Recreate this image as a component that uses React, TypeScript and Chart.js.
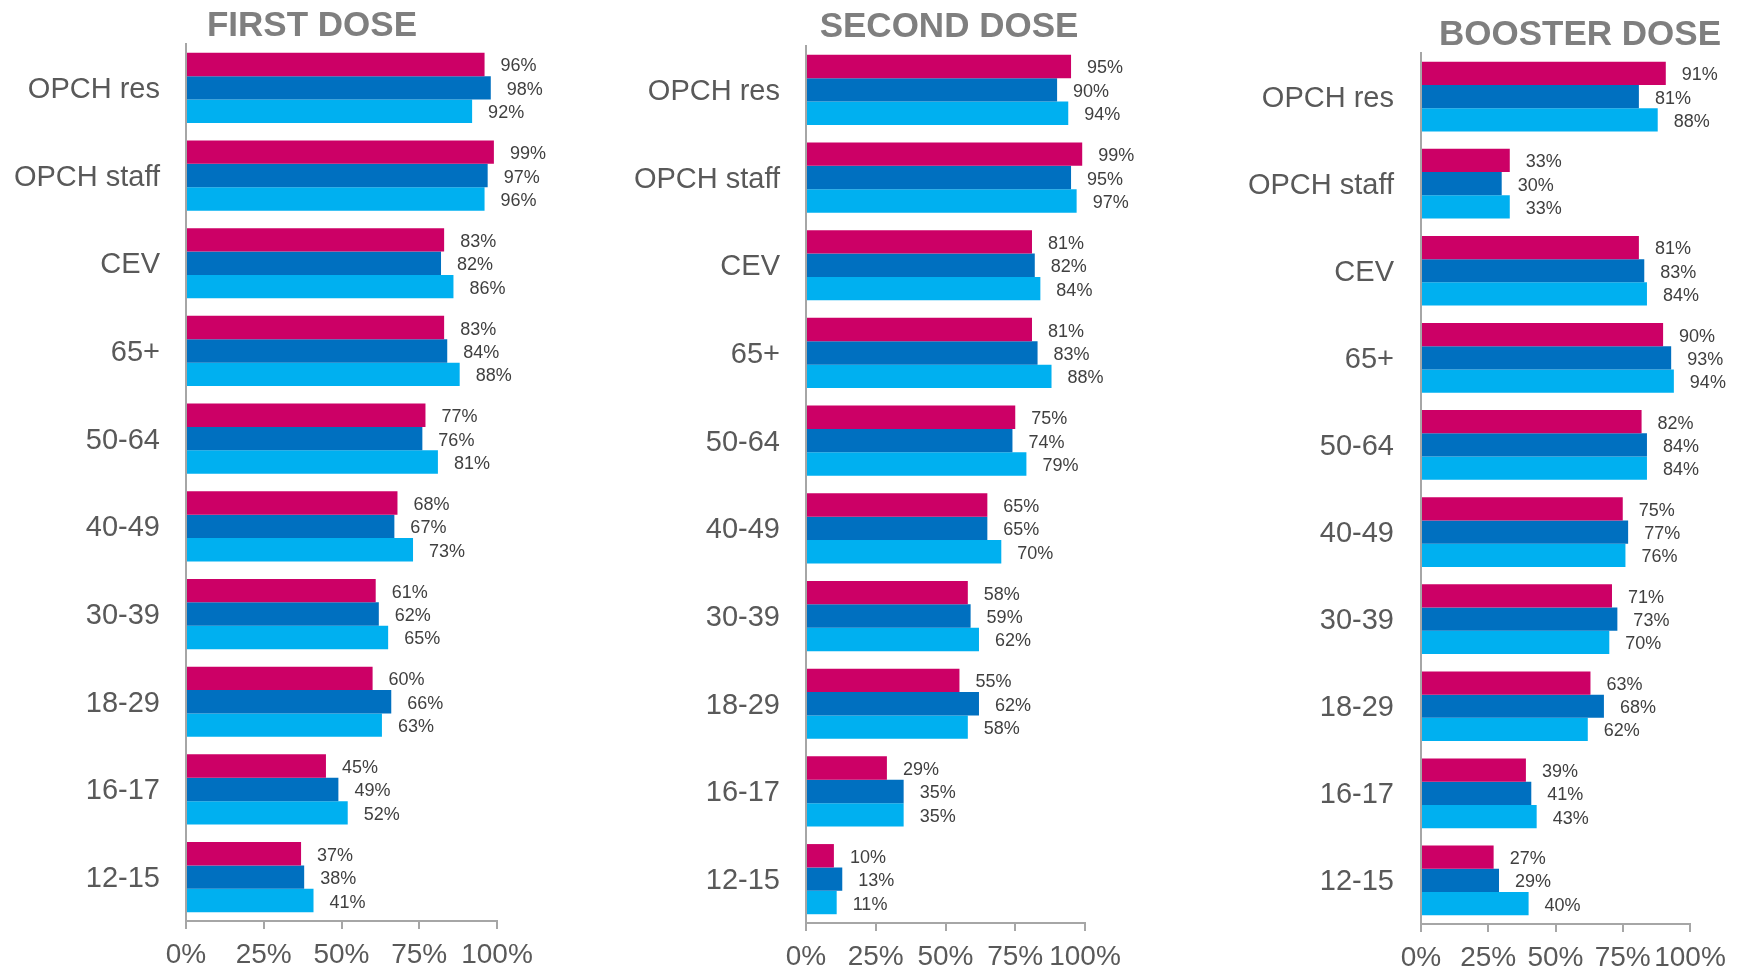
import React, { useEffect, useRef } from "react";
import { Chart, registerables } from "chart.js";

Chart.register(...registerables);

const categories = ["OPCH res", "OPCH staff", "CEV", "65+", "50-64", "40-49", "30-39", "18-29", "16-17", "12-15"];
const xTicks = [0, 25, 50, 75, 100];
const titles = ["FIRST DOSE", "SECOND DOSE", "BOOSTER DOSE"];

const firstPink = [96, 99, 83, 83, 77, 68, 61, 60, 45, 37];
const firstDark = [98, 97, 82, 84, 76, 67, 62, 66, 49, 38];
const firstLight = [92, 96, 86, 88, 81, 73, 65, 63, 52, 41];

const secondPink = [95, 99, 81, 81, 75, 65, 58, 55, 29, 10];
const secondDark = [90, 95, 82, 83, 74, 65, 59, 62, 35, 13];
const secondLight = [94, 97, 84, 88, 79, 70, 62, 58, 35, 11];

const boosterPink = [91, 33, 81, 90, 82, 75, 71, 63, 39, 27];
const boosterDark = [81, 30, 83, 93, 84, 77, 73, 68, 41, 29];
const boosterLight = [88, 33, 84, 94, 84, 76, 70, 62, 43, 40];

const seriesColors = ["#CC0066", "#0070C0", "#00B0F0"];

const FONT = "'Liberation Sans', Arial, Helvetica, sans-serif";

const panels = [
  { title: titles[0], series: [firstPink, firstDark, firstLight], left: 0, width: 590, yWidth: 186, padRight: 93, padTop: 44, xHeight: 51, labelPad: 26, titleX: 312, titleBase: 36 },
  { title: titles[1], series: [secondPink, secondDark, secondLight], left: 590, width: 610, yWidth: 216, padRight: 115, padTop: 46, xHeight: 49, labelPad: 26, titleX: 949, titleBase: 37 },
  { title: titles[2], series: [boosterPink, boosterDark, boosterLight], left: 1200, width: 540, yWidth: 221, padRight: 50, padTop: 53, xHeight: 48, labelPad: 27, titleX: 1580, titleBase: 45 },
];

const dataLabelPlugin = {
  id: "dataLabels",
  afterDatasetsDraw(chart: any) {
    const ctx = chart.ctx;
    ctx.save();
    ctx.font = `18px ${FONT}`;
    ctx.fillStyle = "#404040";
    ctx.textAlign = "left";
    ctx.textBaseline = "middle";
    chart.data.datasets.forEach((ds: any, i: number) => {
      const meta = chart.getDatasetMeta(i);
      meta.data.forEach((bar: any, j: number) => {
        ctx.fillText(`${ds.data[j]}%`, bar.x + 16, bar.y + 2);
      });
    });
    ctx.restore();
  },
};

function Panel({ p }: { p: any }) {
  const ref = useRef<HTMLCanvasElement | null>(null);
  useEffect(() => {
    if (!ref.current) return;
    const chart = new Chart(ref.current, {
      type: "bar",
      data: {
        labels: categories,
        datasets: p.series.map((d: number[], i: number) => ({
          data: d,
          backgroundColor: seriesColors[i],
          borderWidth: 0,
          categoryPercentage: 0.8,
          barPercentage: 1,
        })),
      },
      options: {
        indexAxis: "y",
        responsive: false,
        animation: false,
        devicePixelRatio: 1,
        layout: { padding: { left: 0, top: p.padTop, right: p.padRight, bottom: 0 } },
        plugins: { legend: { display: false }, tooltip: { enabled: false }, title: { display: false } },
        scales: {
          x: {
            min: 0,
            max: 100,
            afterBuildTicks: (s: any) => {
              s.ticks = xTicks.map((v) => ({ value: v }));
            },
            grid: { display: true, drawOnChartArea: false, drawTicks: true, tickLength: 8, color: "#A6A6A6", lineWidth: 2 },
            border: { display: true, color: "#A6A6A6", width: 2 },
            ticks: {
              color: "#595959",
              font: { size: 28, family: FONT },
              padding: 9,
              autoSkip: false,
              maxRotation: 0,
              minRotation: 0,
              callback: (v: any) => `${v}%`,
            },
            afterFit: (s: any) => {
              s.height = p.xHeight;
            },
          },
          y: {
            grid: { display: false, drawTicks: false },
            border: { display: true, color: "#A6A6A6", width: 2 },
            ticks: {
              color: "#595959",
              font: { size: 29, family: FONT },
              padding: p.labelPad,
              labelOffset: 2,
              autoSkip: false,
            },
            afterFit: (s: any) => {
              s.width = p.yWidth;
            },
          },
        },
      } as any,
      plugins: [dataLabelPlugin],
    });
    return () => chart.destroy();
  }, [p]);
  return (
    <canvas
      ref={ref}
      width={p.width}
      height={972}
      style={{ position: "absolute", left: p.left, top: 0, width: p.width, height: 972, display: "block" }}
    />
  );
}

export default function App() {
  return (
    <div style={{ position: "absolute", left: 0, top: 0, width: 1740, height: 972, background: "#ffffff", overflow: "hidden" }}>
      {panels.map((p) => (
        <Panel key={p.title} p={p} />
      ))}
      {panels.map((p) => (
        <div
          key={"t" + p.title}
          style={{
            position: "absolute",
            left: p.titleX,
            top: p.titleBase - 29.6,
            transform: "translateX(-50%)",
            whiteSpace: "nowrap",
            font: `bold 35px ${FONT}`,
            lineHeight: "35px",
            color: "#7F7F7F",
          }}
        >
          {p.title}
        </div>
      ))}
    </div>
  );
}
